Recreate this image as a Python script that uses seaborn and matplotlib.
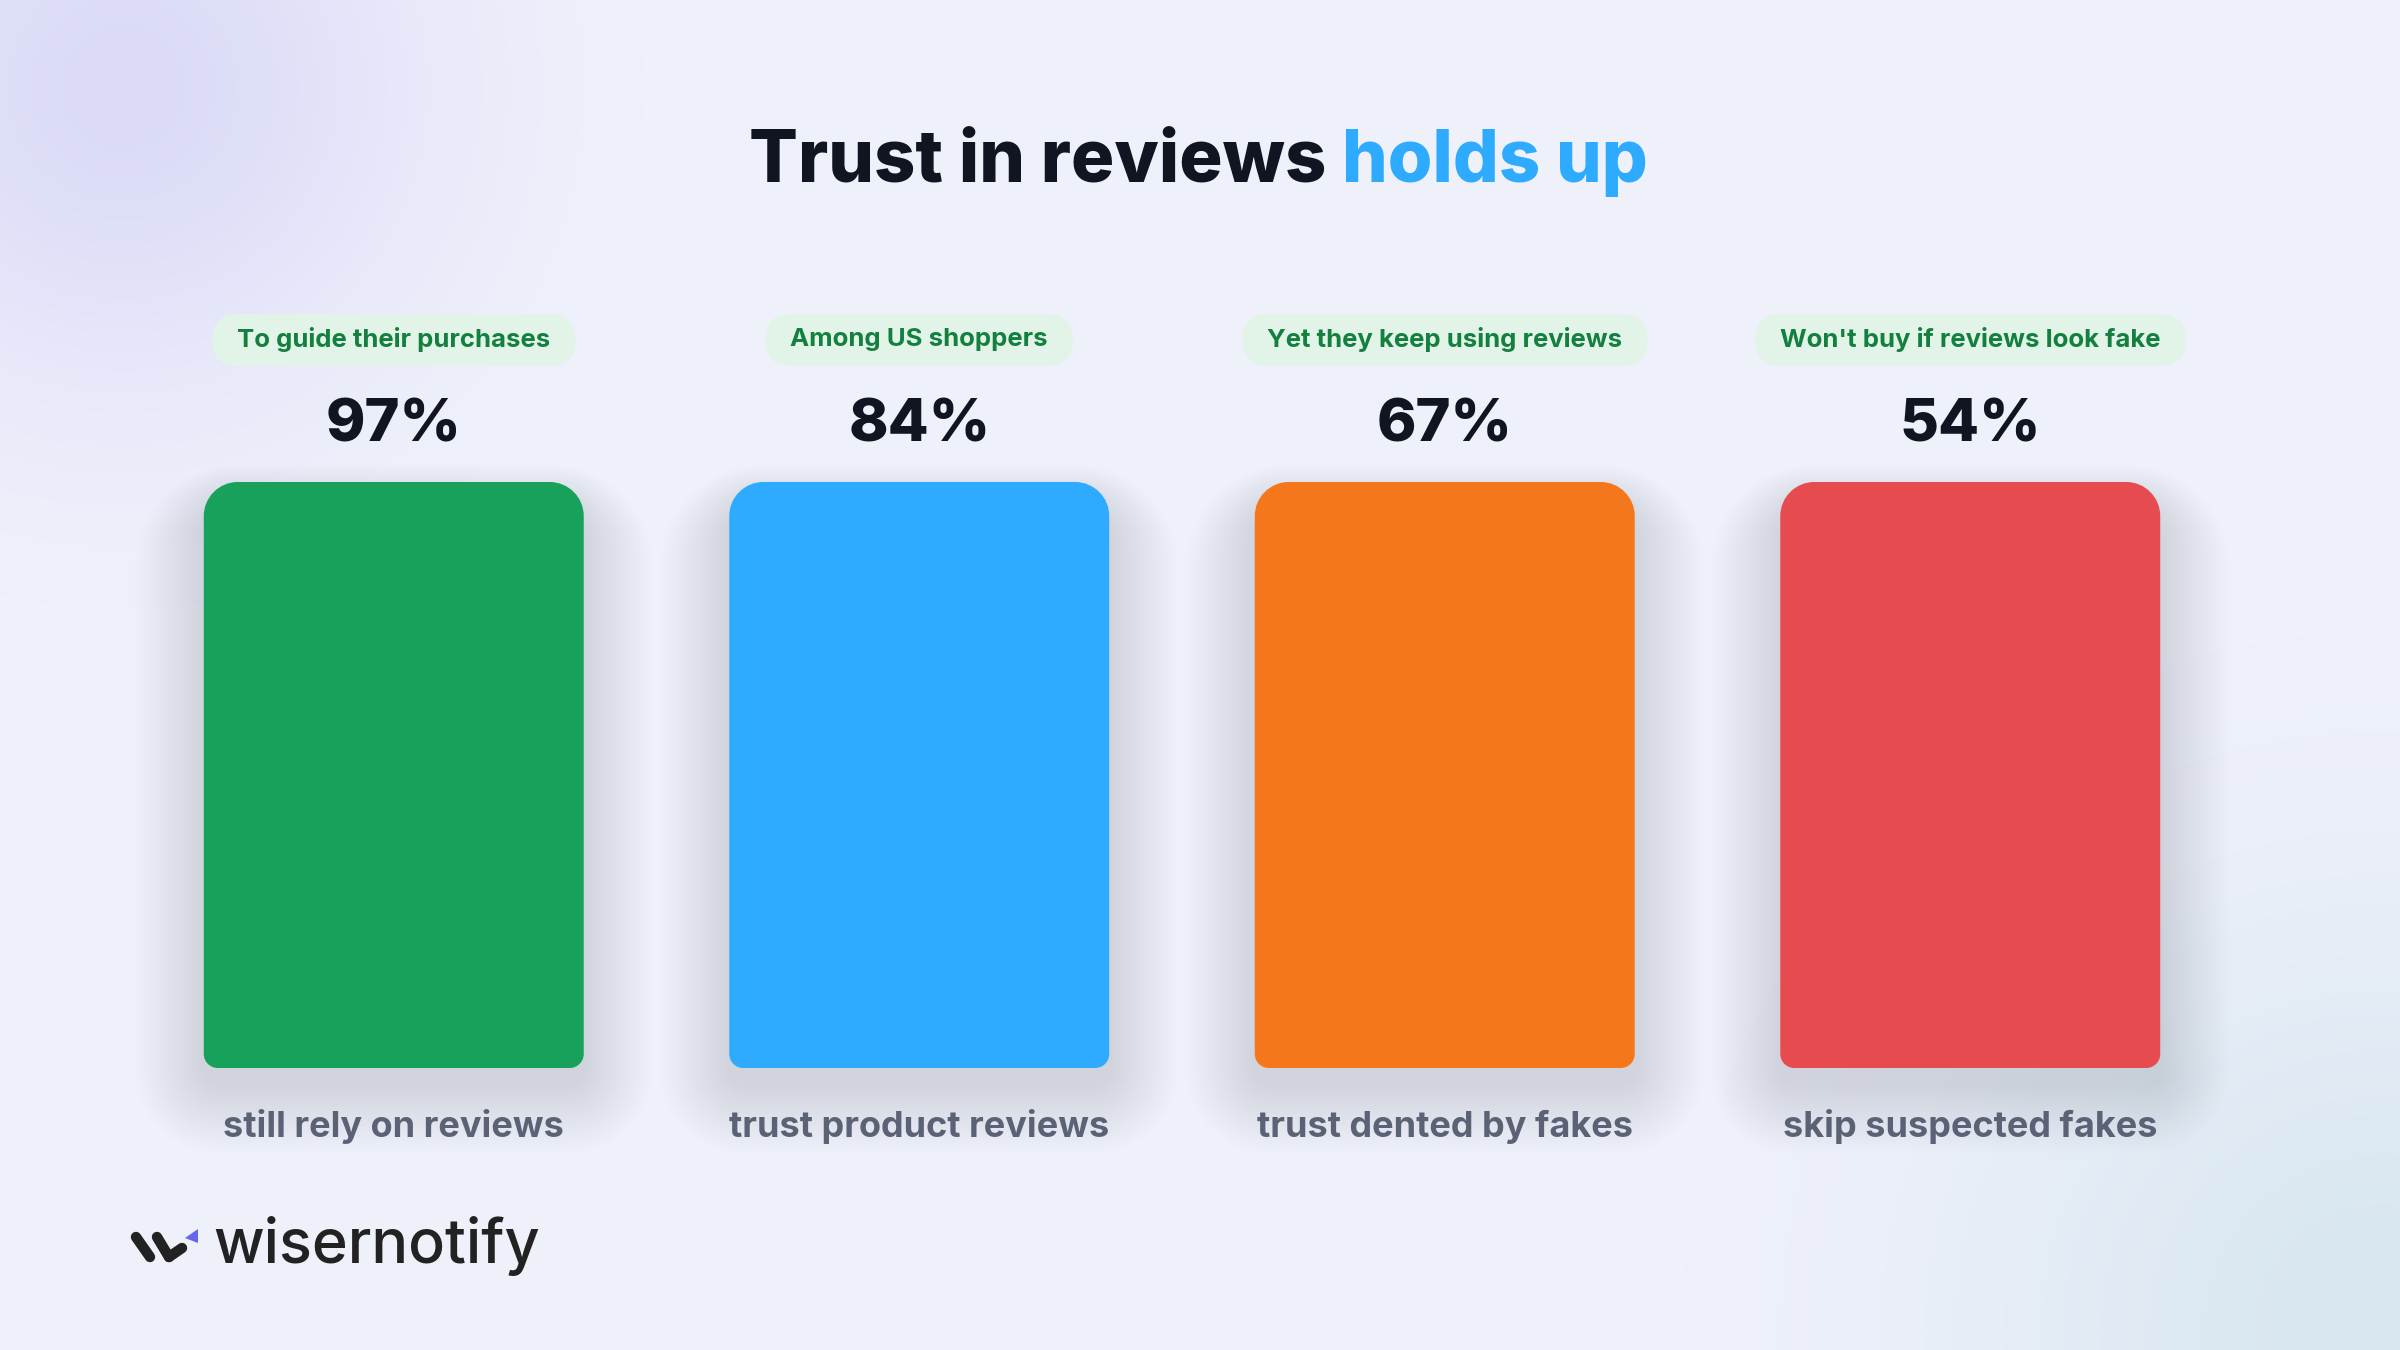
import numpy as np
import pandas as pd
import matplotlib
matplotlib.use("Agg")
import matplotlib.pyplot as plt
import seaborn as sns
from matplotlib.patches import PathPatch, FancyBboxPatch, Polygon
from matplotlib.path import Path
from matplotlib.transforms import IdentityTransform, blended_transform_factory
from matplotlib.lines import Line2D

labels = ["still rely on reviews", "trust product reviews", "trust dented by fakes", "skip suspected fakes"]
values = [97, 84, 67, 54]
tags = ["To guide their purchases", "Among US shoppers", "Yet they keep using reviews", "Won't buy if reviews look fake"]
colors = ["#18a15a", "#2eaaff", "#f5771c", "#e54b4f"]
# every card is drawn at the same full height in the original
card_height = [100, 100, 100, 100]

W, H = 2400, 1350

sns.set_style("white")
plt.rcParams['font.family'] = ['Inter', 'DejaVu Sans']

fig = plt.figure(figsize=(24, 13.5), dpi=100)


def fy(y_px):
    return 1 - y_px / H


# background with soft glows
bg = fig.add_axes([0, 0, 1, 1], zorder=0)
yy, xx = np.mgrid[0:270, 0:480] * 5.0
base = np.array([239, 241, 251]) / 255
c1 = np.array([219, 219, 248]) / 255
c2 = np.array([216, 231, 240]) / 255
w1 = np.exp(-((xx - 120) ** 2 + (yy - 85) ** 2) / (2 * 210 ** 2))[..., None]
w2 = np.exp(-((xx - 2380) ** 2 + (yy - 1330) ** 2) / (2 * 280 ** 2))[..., None]
img = base * (1 - w1 - w2) + c1 * w1 + c2 * w2
bg.imshow(img, extent=[0, W, H, 0], aspect='auto', interpolation='bilinear')
bg.set_xlim(0, W)
bg.set_ylim(H, 0)
bg.axis('off')

# bar axes
df = pd.DataFrame({"label": labels, "card": card_height, "value": values, "tag": tags})
ax = fig.add_axes([131 / W, 282 / H, 2102 / W, 586 / H], zorder=1)
ax.patch.set_alpha(0)
sns.barplot(data=df, x="label", y="card", hue="label", palette=colors,
            width=0.723, legend=False, ax=ax, saturation=1)
ax.set_xlim(-0.5, 3.5)
ax.set_ylim(0, 100)
ax.axis('off')


def rounded_path(x0, y0, x1, y1, rt, rb):
    k = 0.5523
    verts = [
        (x0 + rb, y0), (x1 - rb, y0),
        (x1 - rb + k * rb, y0), (x1, y0 + rb - k * rb), (x1, y0 + rb),
        (x1, y1 - rt),
        (x1, y1 - rt + k * rt), (x1 - rt + k * rt, y1), (x1 - rt, y1),
        (x0 + rt, y1),
        (x0 + rt - k * rt, y1), (x0, y1 - rt + k * rt), (x0, y1 - rt),
        (x0, y0 + rb),
        (x0, y0 + rb - k * rb), (x0 + rb - k * rb, y0), (x0 + rb, y0),
        (x0 + rb, y0),
    ]
    C = Path.CURVE4
    codes = [Path.MOVETO, Path.LINETO, C, C, C, Path.LINETO, C, C, C,
             Path.LINETO, C, C, C, Path.LINETO, C, C, C, Path.CLOSEPOLY]
    return Path(verts, codes)


for p in list(ax.patches):
    x0, y0 = ax.transData.transform((p.get_x(), 0))
    x1, y1 = ax.transData.transform((p.get_x() + p.get_width(), p.get_height()))
    color = p.get_facecolor()
    p.set_visible(False)
    # soft blurred shadow
    for i in range(1, 30):
        s = 2.4 * i
        sh = PathPatch(rounded_path(x0 - s, y0 - 16 - s, x1 + s, y1 - 24 + s * 0.6, 34 + s, 14 + s),
                       transform=IdentityTransform(), facecolor=(0.45, 0.45, 0.66),
                       edgecolor='none', alpha=0.0045, zorder=1, clip_on=False)
        ax.add_patch(sh)
    ax.add_patch(PathPatch(rounded_path(x0, y0, x1, y1, 34, 14), transform=IdentityTransform(),
                           facecolor=color, edgecolor='none', zorder=3, clip_on=False))

tr = blended_transform_factory(ax.transData, fig.transFigure)

pill_texts = []
for i, row in df.iterrows():
    t = ax.text(i, fy(340), row["tag"], transform=tr, ha='center', va='center',
                fontsize=18.5, fontweight='bold', color='#13803f', zorder=5)
    pill_texts.append(t)
    ax.text(i, fy(442), f"{row['value']}%", transform=tr, ha='center', va='baseline',
            fontsize=43, fontweight='heavy', color='#111522', zorder=5)
    ax.text(i, fy(1137), row["label"], transform=tr, ha='center', va='baseline',
            fontsize=26, fontweight='bold', color='#5b6276', zorder=5)

fig.canvas.draw()
renderer = fig.canvas.get_renderer()
for t in pill_texts:
    bb = t.get_window_extent(renderer)
    cx = (bb.x0 + bb.x1) / 2
    cy = H - 340
    w = bb.width + 50
    ax.add_patch(FancyBboxPatch((cx - w / 2, cy - 26), w, 52,
                                boxstyle="round,pad=0,rounding_size=26",
                                transform=IdentityTransform(), facecolor='#e2f4e8',
                                edgecolor='none', zorder=4, clip_on=False))

# title in two colours
title_kw = dict(fontsize=52, fontweight='heavy', va='baseline')
full = fig.text(0, fy(182), "Trust in reviews holds up", **title_kw)
part = fig.text(0, fy(182), "holds up", **title_kw)
fw = full.get_window_extent(renderer).width
pw = part.get_window_extent(renderer).width
full.remove()
part.remove()
x_start = 1198 - fw / 2
fig.text(x_start / W, fy(182), "Trust in reviews", color='#111522', **title_kw)
fig.text((x_start + fw - pw) / W, fy(182), "holds up", color='#2eaaff', **title_kw)

# logo
fig.text(213 / W, fy(1263), "wisernotify", fontsize=44, fontweight='medium',
         color='#222222', va='baseline')
for (xa, ya), (xb, yb) in [((136, 1237), (150, 1257)), ((157, 1237), (169, 1257)),
                           ((169, 1257), (182, 1248))]:
    fig.add_artist(Line2D([xa / W, xb / W], [fy(ya), fy(yb)], transform=fig.transFigure,
                          color='#222222', linewidth=7.5, solid_capstyle='round'))
fig.add_artist(Polygon([(185 / W, fy(1238)), (198 / W, fy(1229)), (198 / W, fy(1243))],
                       closed=True, transform=fig.transFigure, facecolor='#6366f1',
                       edgecolor='none'))

fig.savefig("out.png", dpi=100)
